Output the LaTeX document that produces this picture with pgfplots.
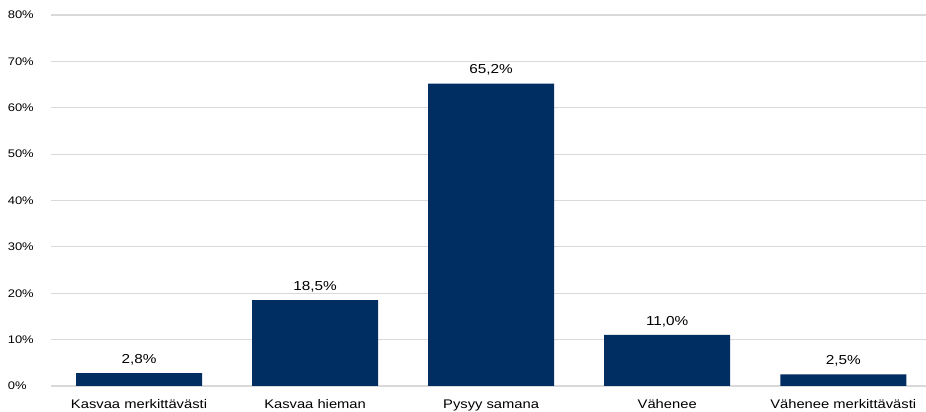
\documentclass[border=0pt]{standalone}
\usepackage{pgfplots}
\pgfplotsset{compat=1.18}
\usepackage{fontspec}
\setmainfont[FakeStretch=1.18]{Liberation Sans}
\definecolor{barnavy}{HTML}{002D62}
\definecolor{gridgray}{HTML}{D9D9D9}
\begin{document}
\begin{tikzpicture}
\begin{axis}[
  at={(51pt,26pt)}, anchor=south west,
  scale only axis,
  width=875pt, height=371pt,
  xmin=-0.5, xmax=4.47,
  ymin=0, ymax=80,
  axis line style={draw=none},
  major tick length=0pt,
  ytick={0,10,...,80},
  ymajorgrids,
  grid style={gridgray, line width=1.1pt},
  xtick={0,1,2,3,4},
  xticklabels={Kasvaa merkittävästi, Kasvaa hieman, Pysyy samana, Vähenee, Vähenee merkittävästi},
  xticklabel style={font=\fontsize{12.5}{14}\selectfont, anchor=north, yshift=-10pt, text=black},
  /pgf/number format/assume math mode=true,
  yticklabel={\pgfmathprintnumber{\tick}\%},
  yticklabel style={font=\fontsize{11}{13}\selectfont, anchor=east, inner sep=0pt, text width=28pt, align=left, xshift=-15pt, text=black},
  ybar, bar width=126pt,
  nodes near coords={\pgfmathprintnumber[fixed, fixed zerofill, precision=1, use comma]{\pgfplotspointmeta}\%},
  nodes near coords style={font=\fontsize{13}{15}\selectfont, anchor=south, inner sep=0pt, yshift=8pt, text=black},
]
\addplot[fill=barnavy, draw=none] coordinates {(0,2.8) (1,18.5) (2,65.2) (3,11.0) (4,2.5)};
\end{axis}
\pgfresetboundingbox
\path[use as bounding box] (0,0) rectangle (926pt,412pt);
\end{tikzpicture}
\end{document}
